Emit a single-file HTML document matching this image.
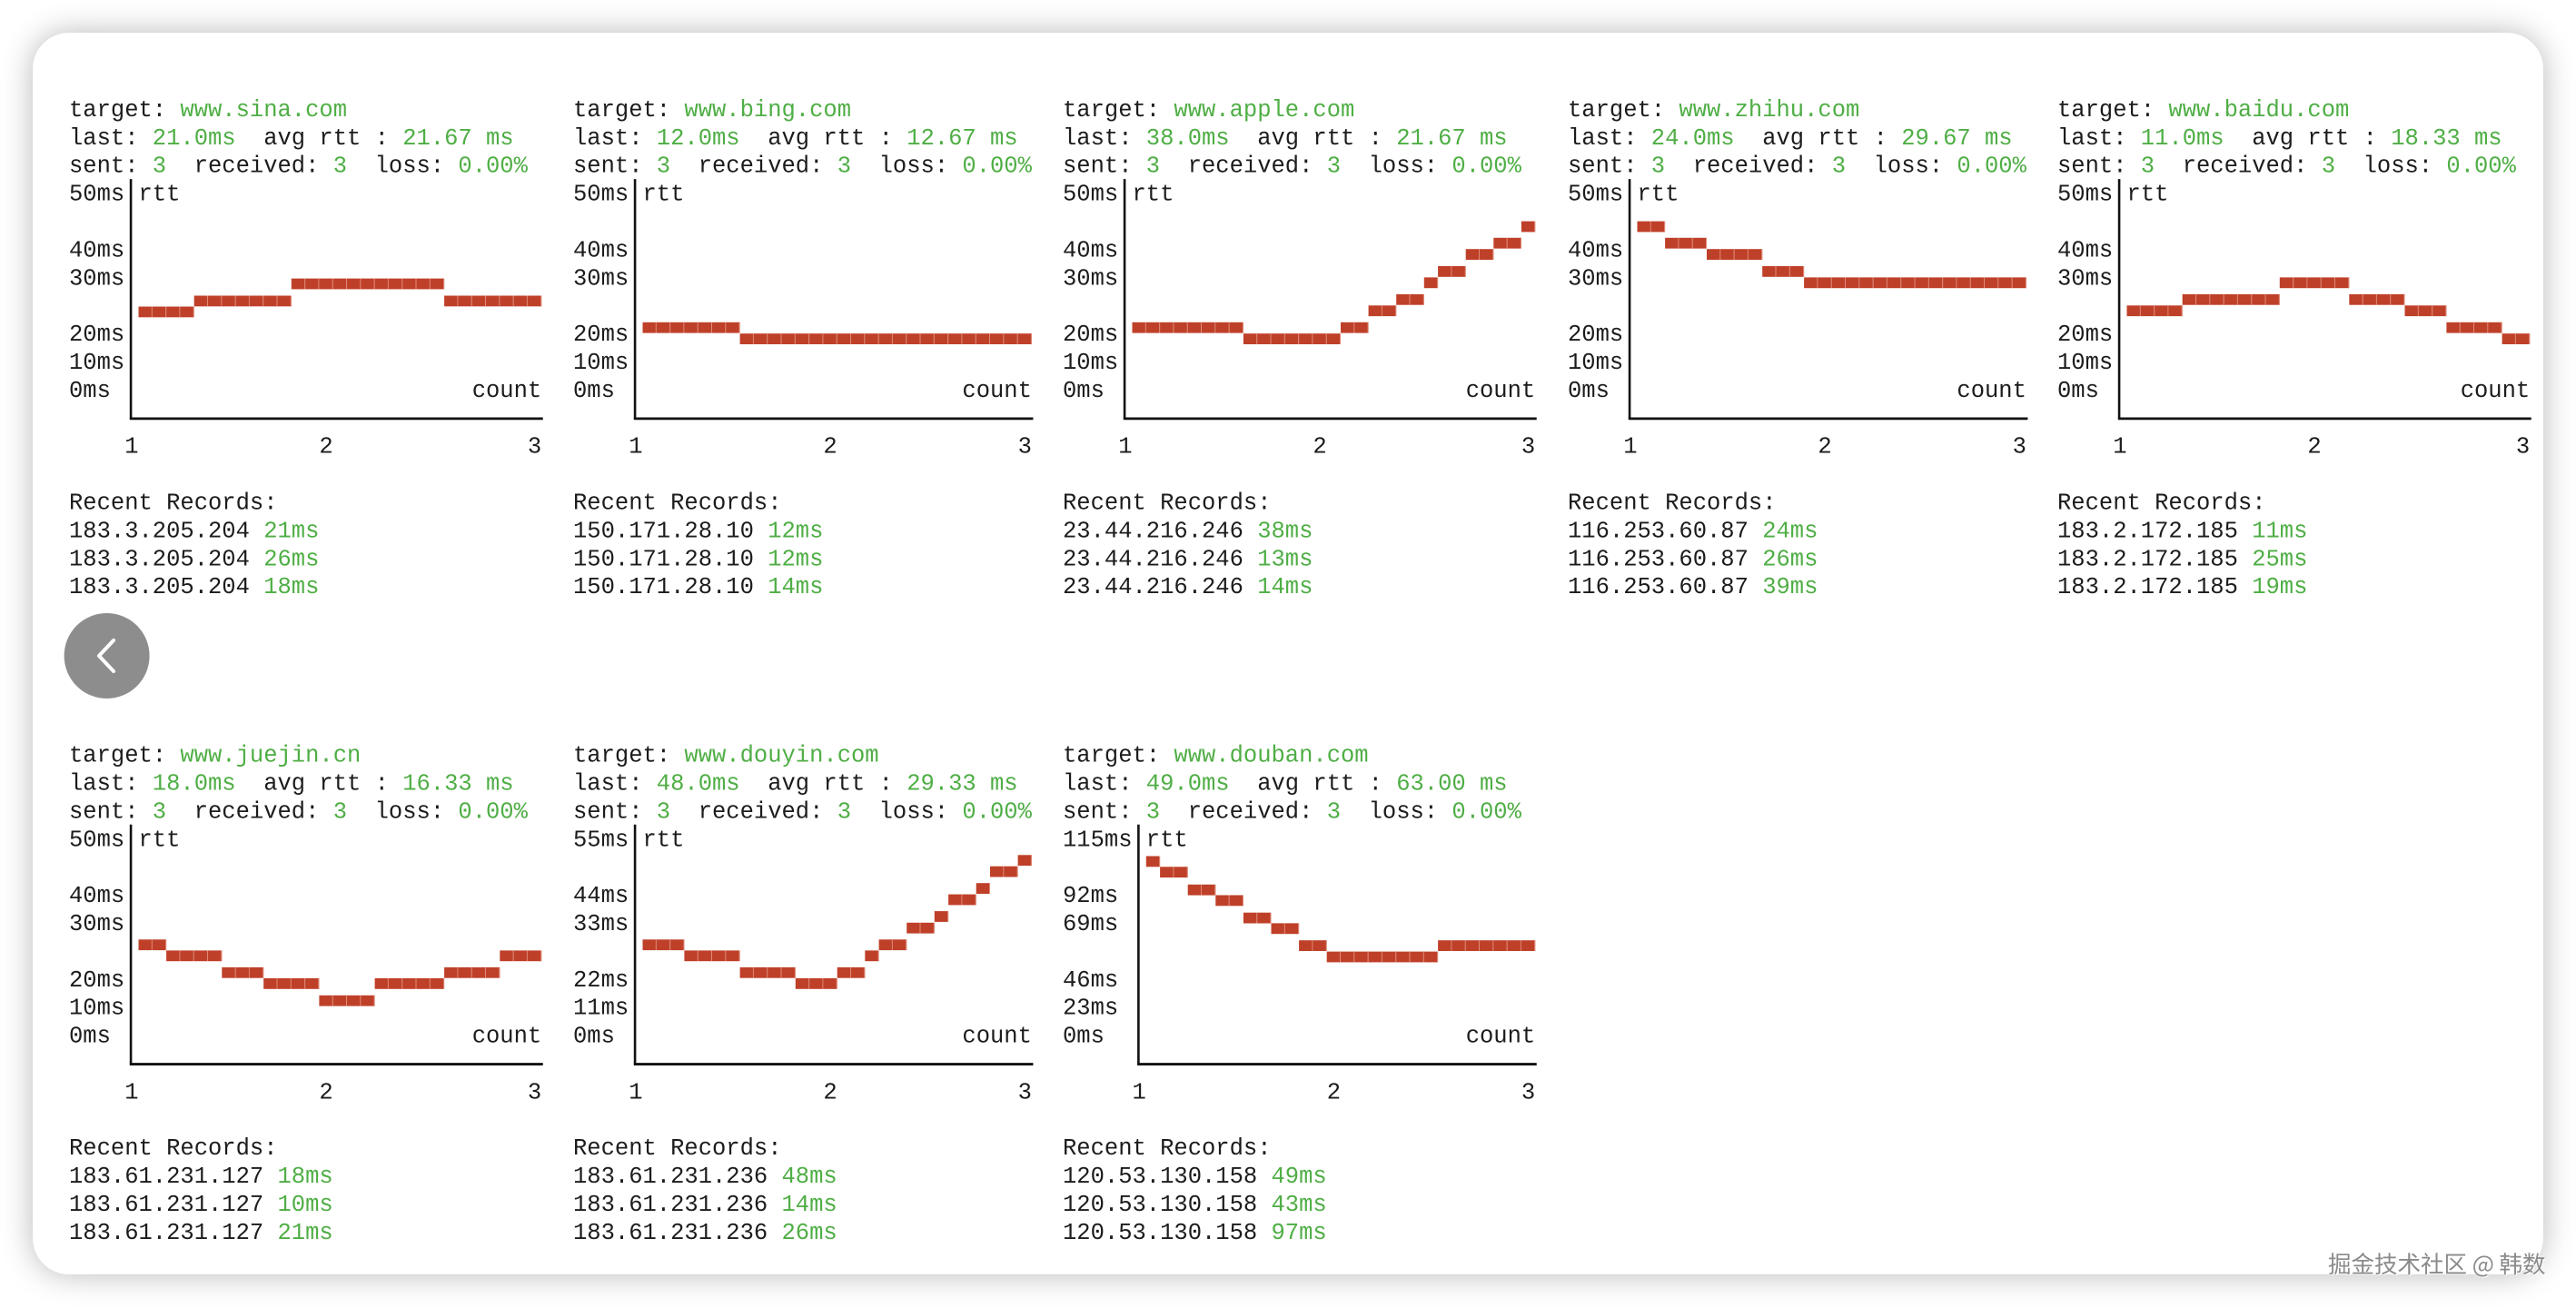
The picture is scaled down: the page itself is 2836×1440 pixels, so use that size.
<!DOCTYPE html>
<html><head><meta charset="utf-8">
<style>
html,body{margin:0;padding:0;background:#fff;}
body{width:2836px;height:1440px;overflow:hidden;position:relative;}
.card{position:absolute;left:36px;top:36px;width:2764px;height:1367px;background:#fff;border-radius:40px;box-shadow:0 0 34px rgba(0,0,0,0.28);}
svg{position:absolute;left:0;top:0;}
.wm{position:absolute;left:2563px;top:1372px;font:25.5px "Noto Sans CJK SC","WenQuanYi Zen Hei",sans-serif;color:#8a8a8a;text-shadow:0 0 2px #fff,1px 1px 0 #fff;white-space:nowrap;}
</style></head>
<body>
<div class="card"></div>
<svg id="s" width="2836" height="1440" xmlns="http://www.w3.org/2000/svg"></svg>
<div class="wm">掘金技术社区 @ 韩数</div>
<script>
var CW=15.3, LH=30.9, FS=25.5, G='#4fae45', K='#1c1c1c', RED='#bf4029';
var P=[
{x:76,y:119.4,n:29,t:'www.sina.com',l:'21.0ms',a:'21.67',yl:['50ms','40ms','30ms','20ms','10ms','0ms'],r:[['183.3.205.204','21ms'],['183.3.205.204','26ms'],['183.3.205.204','18ms']],s:[[4,7.25],[7,6.86],[11,6.25],[7,6.86]]},
{x:631,y:119.4,n:28,t:'www.bing.com',l:'12.0ms',a:'12.67',yl:['50ms','40ms','30ms','20ms','10ms','0ms'],r:[['150.171.28.10','12ms'],['150.171.28.10','12ms'],['150.171.28.10','14ms']],s:[[7,7.81],[21,8.21]]},
{x:1170,y:119.4,n:29,t:'www.apple.com',l:'38.0ms',a:'21.67',yl:['50ms','40ms','30ms','20ms','10ms','0ms'],r:[['23.44.216.246','38ms'],['23.44.216.246','13ms'],['23.44.216.246','14ms']],s:[[8,7.81],[7,8.21],[2,7.81],[2,7.21],[2,6.81],[1,6.21],[2,5.81],[2,5.2],[2,4.8],[1,4.21]]},
{x:1726,y:119.4,n:28,t:'www.zhihu.com',l:'24.0ms',a:'29.67',yl:['50ms','40ms','30ms','20ms','10ms','0ms'],r:[['116.253.60.87','24ms'],['116.253.60.87','26ms'],['116.253.60.87','39ms']],s:[[2,4.21],[3,4.8],[4,5.2],[3,5.81],[16,6.21]]},
{x:2265,y:119.4,n:29,t:'www.baidu.com',l:'11.0ms',a:'18.33',yl:['50ms','40ms','30ms','20ms','10ms','0ms'],r:[['183.2.172.185','11ms'],['183.2.172.185','25ms'],['183.2.172.185','19ms']],s:[[4,7.21],[7,6.81],[5,6.21],[4,6.81],[3,7.21],[4,7.81],[2,8.21]]},
{x:76,y:830.1,n:29,t:'www.juejin.cn',l:'18.0ms',a:'16.33',yl:['50ms','40ms','30ms','20ms','10ms','0ms'],r:[['183.61.231.127','18ms'],['183.61.231.127','10ms'],['183.61.231.127','21ms']],s:[[2,6.8],[4,7.19],[3,7.79],[4,8.18],[4,8.79],[5,8.18],[4,7.79],[3,7.19]]},
{x:631,y:830.1,n:28,t:'www.douyin.com',l:'48.0ms',a:'29.33',yl:['55ms','44ms','33ms','22ms','11ms','0ms'],r:[['183.61.231.236','48ms'],['183.61.231.236','14ms'],['183.61.231.236','26ms']],s:[[3,6.8],[4,7.19],[4,7.79],[3,8.18],[2,7.79],[1,7.19],[2,6.8],[2,6.2],[1,5.79],[2,5.19],[1,4.79],[2,4.19],[1,3.79]]},
{x:1170,y:830.1,n:28,t:'www.douban.com',l:'49.0ms',a:'63.00',yl:['115ms','92ms','69ms','46ms','23ms','0ms'],r:[['120.53.130.158','49ms'],['120.53.130.158','43ms'],['120.53.130.158','97ms']],s:[[1,3.83],[2,4.21],[2,4.84],[2,5.22],[2,5.84],[2,6.22],[2,6.83],[8,7.23],[7,6.83]]}
];
var o='';
function txt(x,cy,parts){
  o+='<text x="'+x.toFixed(1)+'" y="'+(cy+8.5).toFixed(1)+'" font-family="Liberation Mono, DejaVu Sans Mono, monospace" font-size="'+FS+'" xml:space="preserve" textLength="'+(parts.reduce(function(a,p){return a+p[0].length},0)*CW).toFixed(1)+'" lengthAdjust="spacing">';
  parts.forEach(function(p){o+='<tspan fill="'+(p[1]?G:K)+'">'+p[0]+'</tspan>';});
  o+='</text>';
}
P.forEach(function(p){
  var ly=function(i){return p.y+LH*i;};
  txt(p.x,ly(0),[['target: '],[p.t,1]]);
  txt(p.x,ly(1),[['last: '],[p.l,1],['  avg rtt : '],[p.a+' ms',1]]);
  txt(p.x,ly(2),[['sent: '],['3',1],['  received: '],['3',1],['  loss: '],['0.00%',1]]);
  var L=p.yl[0].length, E=L+1+p.n;
  var lines=[3,5,6,8,9,10];
  p.yl.forEach(function(s,i){txt(p.x,ly(lines[i]),[[s]]);});
  var ax=p.x+(L+0.45)*CW, axY=p.y+LH*11.05, endX=p.x+(E+0.1)*CW;
  o+='<line x1="'+ax+'" y1="'+(ly(3)-15)+'" x2="'+ax+'" y2="'+axY+'" stroke="#111" stroke-width="2.6"/>';
  o+='<line x1="'+(ax-1.3)+'" y1="'+axY+'" x2="'+endX+'" y2="'+axY+'" stroke="#111" stroke-width="2.8"/>';
  txt(p.x+(L+1)*CW,ly(3),[['rtt']]);
  txt(p.x+(E-5)*CW,ly(10),[['count']]);
  txt(p.x+L*CW,ly(12),[['1']]);
  txt(p.x+(L+14)*CW,ly(12),[['2']]);
  txt(p.x+(E-1)*CW,ly(12),[['3']]);
  var c=0;
  p.s.forEach(function(sg){
    for(var k=0;k<sg[0];k++){
      var x=p.x+(L+1+c)*CW, cy=p.y+LH*sg[1];
      o+='<rect x="'+x.toFixed(1)+'" y="'+(cy-5.9).toFixed(1)+'" width="'+CW+'" height="11.8" fill="'+RED+'"/>';
      o+='<line x1="'+(x+CW-0.5).toFixed(1)+'" y1="'+(cy-5.9).toFixed(1)+'" x2="'+(x+CW-0.5).toFixed(1)+'" y2="'+(cy+5.9).toFixed(1)+'" stroke="#e08a78" stroke-width="1"/>';
      c++;
    }
  });
  txt(p.x,ly(14),[['Recent Records:']]);
  p.r.forEach(function(r,i){txt(p.x,ly(15+i),[[r[0]+' '],[r[1],1]]);});
});
o+='<circle cx="117.6" cy="722" r="47" fill="#8d8d8d"/>';
o+='<polyline points="125,705 109,722 125,739" fill="none" stroke="#fff" stroke-width="4" stroke-linecap="round" stroke-linejoin="round"/>';
document.getElementById('s').innerHTML=o;
</script>
</body></html>
